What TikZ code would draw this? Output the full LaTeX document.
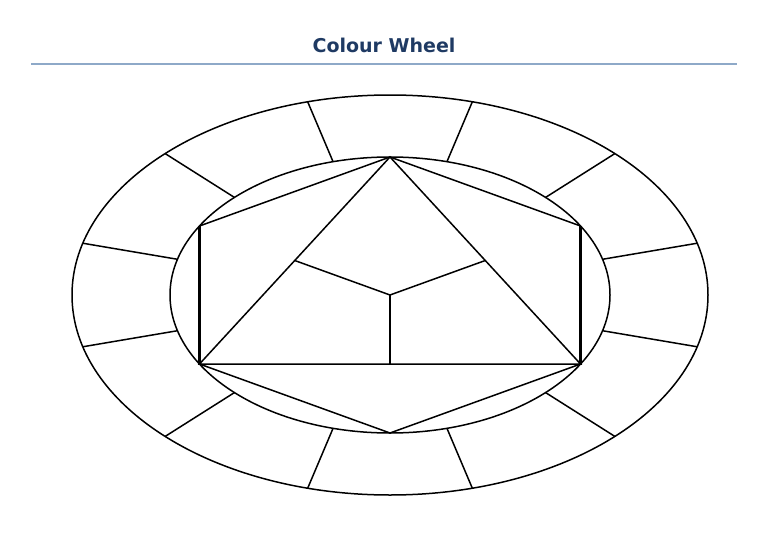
\documentclass[tikz,border=0pt]{standalone}
\usepackage{fontspec}
\setsansfont{DejaVu Sans}
\usetikzlibrary{calc}
\definecolor{titleblue}{HTML}{1F3A63}
\definecolor{rulegrey}{HTML}{8EA9C8}
\begin{document}
\begin{tikzpicture}[
        x=1pt, y=-1pt,
        ring/.style={line width=1.5pt},
        edge/.style={line width=1.5pt},
        thickedge/.style={line width=2.8pt},
        ]
        \useasboundingbox (0,0) rectangle (768,543);
        \node[font=\sffamily\bfseries\fontsize{19}{22}\selectfont, text=titleblue] (title) at (384,45) {Colour Wheel};
        \coordinate (ruleL) at (31,64);
        \coordinate (ruleR) at (737,64);
        \draw[rulegrey, line width=1.3pt] (ruleL) -- (ruleR);
        \begin{scope}[shift={(390,295)}]
        \coordinate (O) at (0,0);
        \draw[ring] (O) ellipse [x radius=318, y radius=200];
        \draw[ring] (O) ellipse [x radius=220, y radius=138];
        % spokes of the outer ring
        \foreach \a in {15,45,...,345}{
            \coordinate (in\a) at (\a:220 and 138);
            \coordinate (out\a) at (\a:318 and 200);
            \draw[ring] (in\a) -- (out\a);
        }
        % hexagon corners on the inner ellipse
        \foreach \a/\n in {270/top,210/ul,150/ll,90/bot,30/lr,330/ur}
            \coordinate (\n) at (\a:220 and 138);
        \coordinate (midL) at ($(top)!0.5!(ll)$);
        \coordinate (midR) at ($(top)!0.5!(lr)$);
        \coordinate (midB) at ($(ll)!0.5!(lr)$);
        \draw[edge] (ur) -- (top) -- (ul);
        \draw[edge] (ll) -- (bot) -- (lr);
        \draw[thickedge] (ul) -- (ll);
        \draw[thickedge] (ur) -- (lr);
        \draw[edge] (top) -- (ll) -- (lr) -- cycle;
        \draw[edge] (midL) -- (O) -- (midR);
        \draw[edge] (O) -- (midB);
        \end{scope}
\end{tikzpicture}
\end{document}
